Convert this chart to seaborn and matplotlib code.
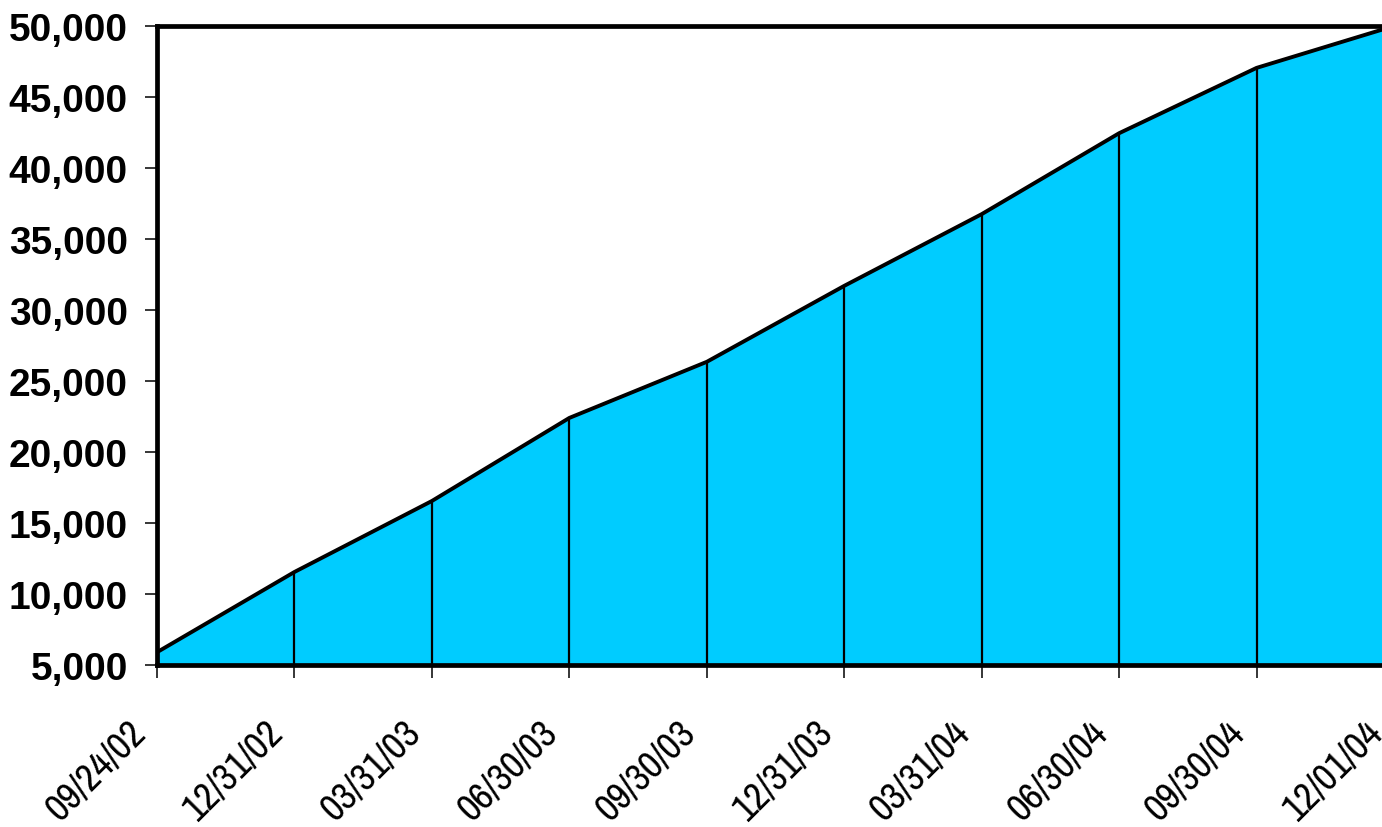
import matplotlib
matplotlib.use("Agg")
import matplotlib.pyplot as plt
import matplotlib.transforms as mtransforms
import seaborn as sns
import pandas as pd
from matplotlib.ticker import FuncFormatter

dates = ["09/24/02", "12/31/02", "03/31/03", "06/30/03", "09/30/03",
         "12/31/03", "03/31/04", "06/30/04", "09/30/04", "12/01/04"]
values = [5900, 11550, 16550, 22400, 26350, 31700, 36750, 42450, 47050, 50000]
yticks = [5000, 10000, 15000, 20000, 25000, 30000, 35000, 40000, 45000, 50000]

df = pd.DataFrame({"pos": range(len(dates)), "value": values})

sns.set_theme(style="white")
plt.rcParams["font.family"] = ["Liberation Sans", "DejaVu Sans"]

W, H = 1382, 828
fig = plt.figure(figsize=(W / 100, H / 100), dpi=100)
fig.patch.set_facecolor("white")
left, bottom = 157 / W, (H - 666) / H
ax = fig.add_axes([left, bottom, (1394 - 157) / W, (666 - 27) / H])

fill = "#00CCFF"
ax.fill_between(df["pos"], 5000, df["value"], color=fill, linewidth=0, zorder=1)
ax.vlines(df["pos"], 5000, df["value"], color="black", linewidth=1.6, zorder=2)
sns.lineplot(data=df, x="pos", y="value", color="black", linewidth=2.8, ax=ax,
             zorder=3)

ax.set_xlim(0, len(dates) - 1)
ax.set_ylim(5000, 50000)
ax.set_yticks(yticks)
ax.yaxis.set_major_formatter(FuncFormatter(lambda v, p: f"{int(v):,}"))
ax.set_xticks(range(len(dates)))
ax.set_xticklabels(dates, rotation=45, ha="right", va="bottom",
                   rotation_mode="anchor",
                   family=["Archivo Narrow", "DejaVu Sans"], fontsize=28)
for lab in ax.get_yticklabels():
    lab.set_fontweight("bold")
    lab.set_fontsize(28)
ax.set_xlabel("")
ax.set_ylabel("")

for side in ["left", "top", "bottom", "right"]:
    ax.spines[side].set_color("black")
    ax.spines[side].set_linewidth(3.4)
ax.tick_params(axis="both", which="both", direction="out", length=9,
               width=1.1, color="black", labelcolor="black")
ax.tick_params(axis="y", pad=12, left=True)
ax.tick_params(axis="x", pad=44, bottom=True)
ax.grid(False)
ax.set_facecolor("white")

shift = mtransforms.ScaledTranslation(-5 / 100, 0, fig.dpi_scale_trans)
for lab in ax.get_xticklabels():
    lab.set_transform(lab.get_transform() + shift)

fig.savefig("out.png", dpi=100, facecolor="white")
